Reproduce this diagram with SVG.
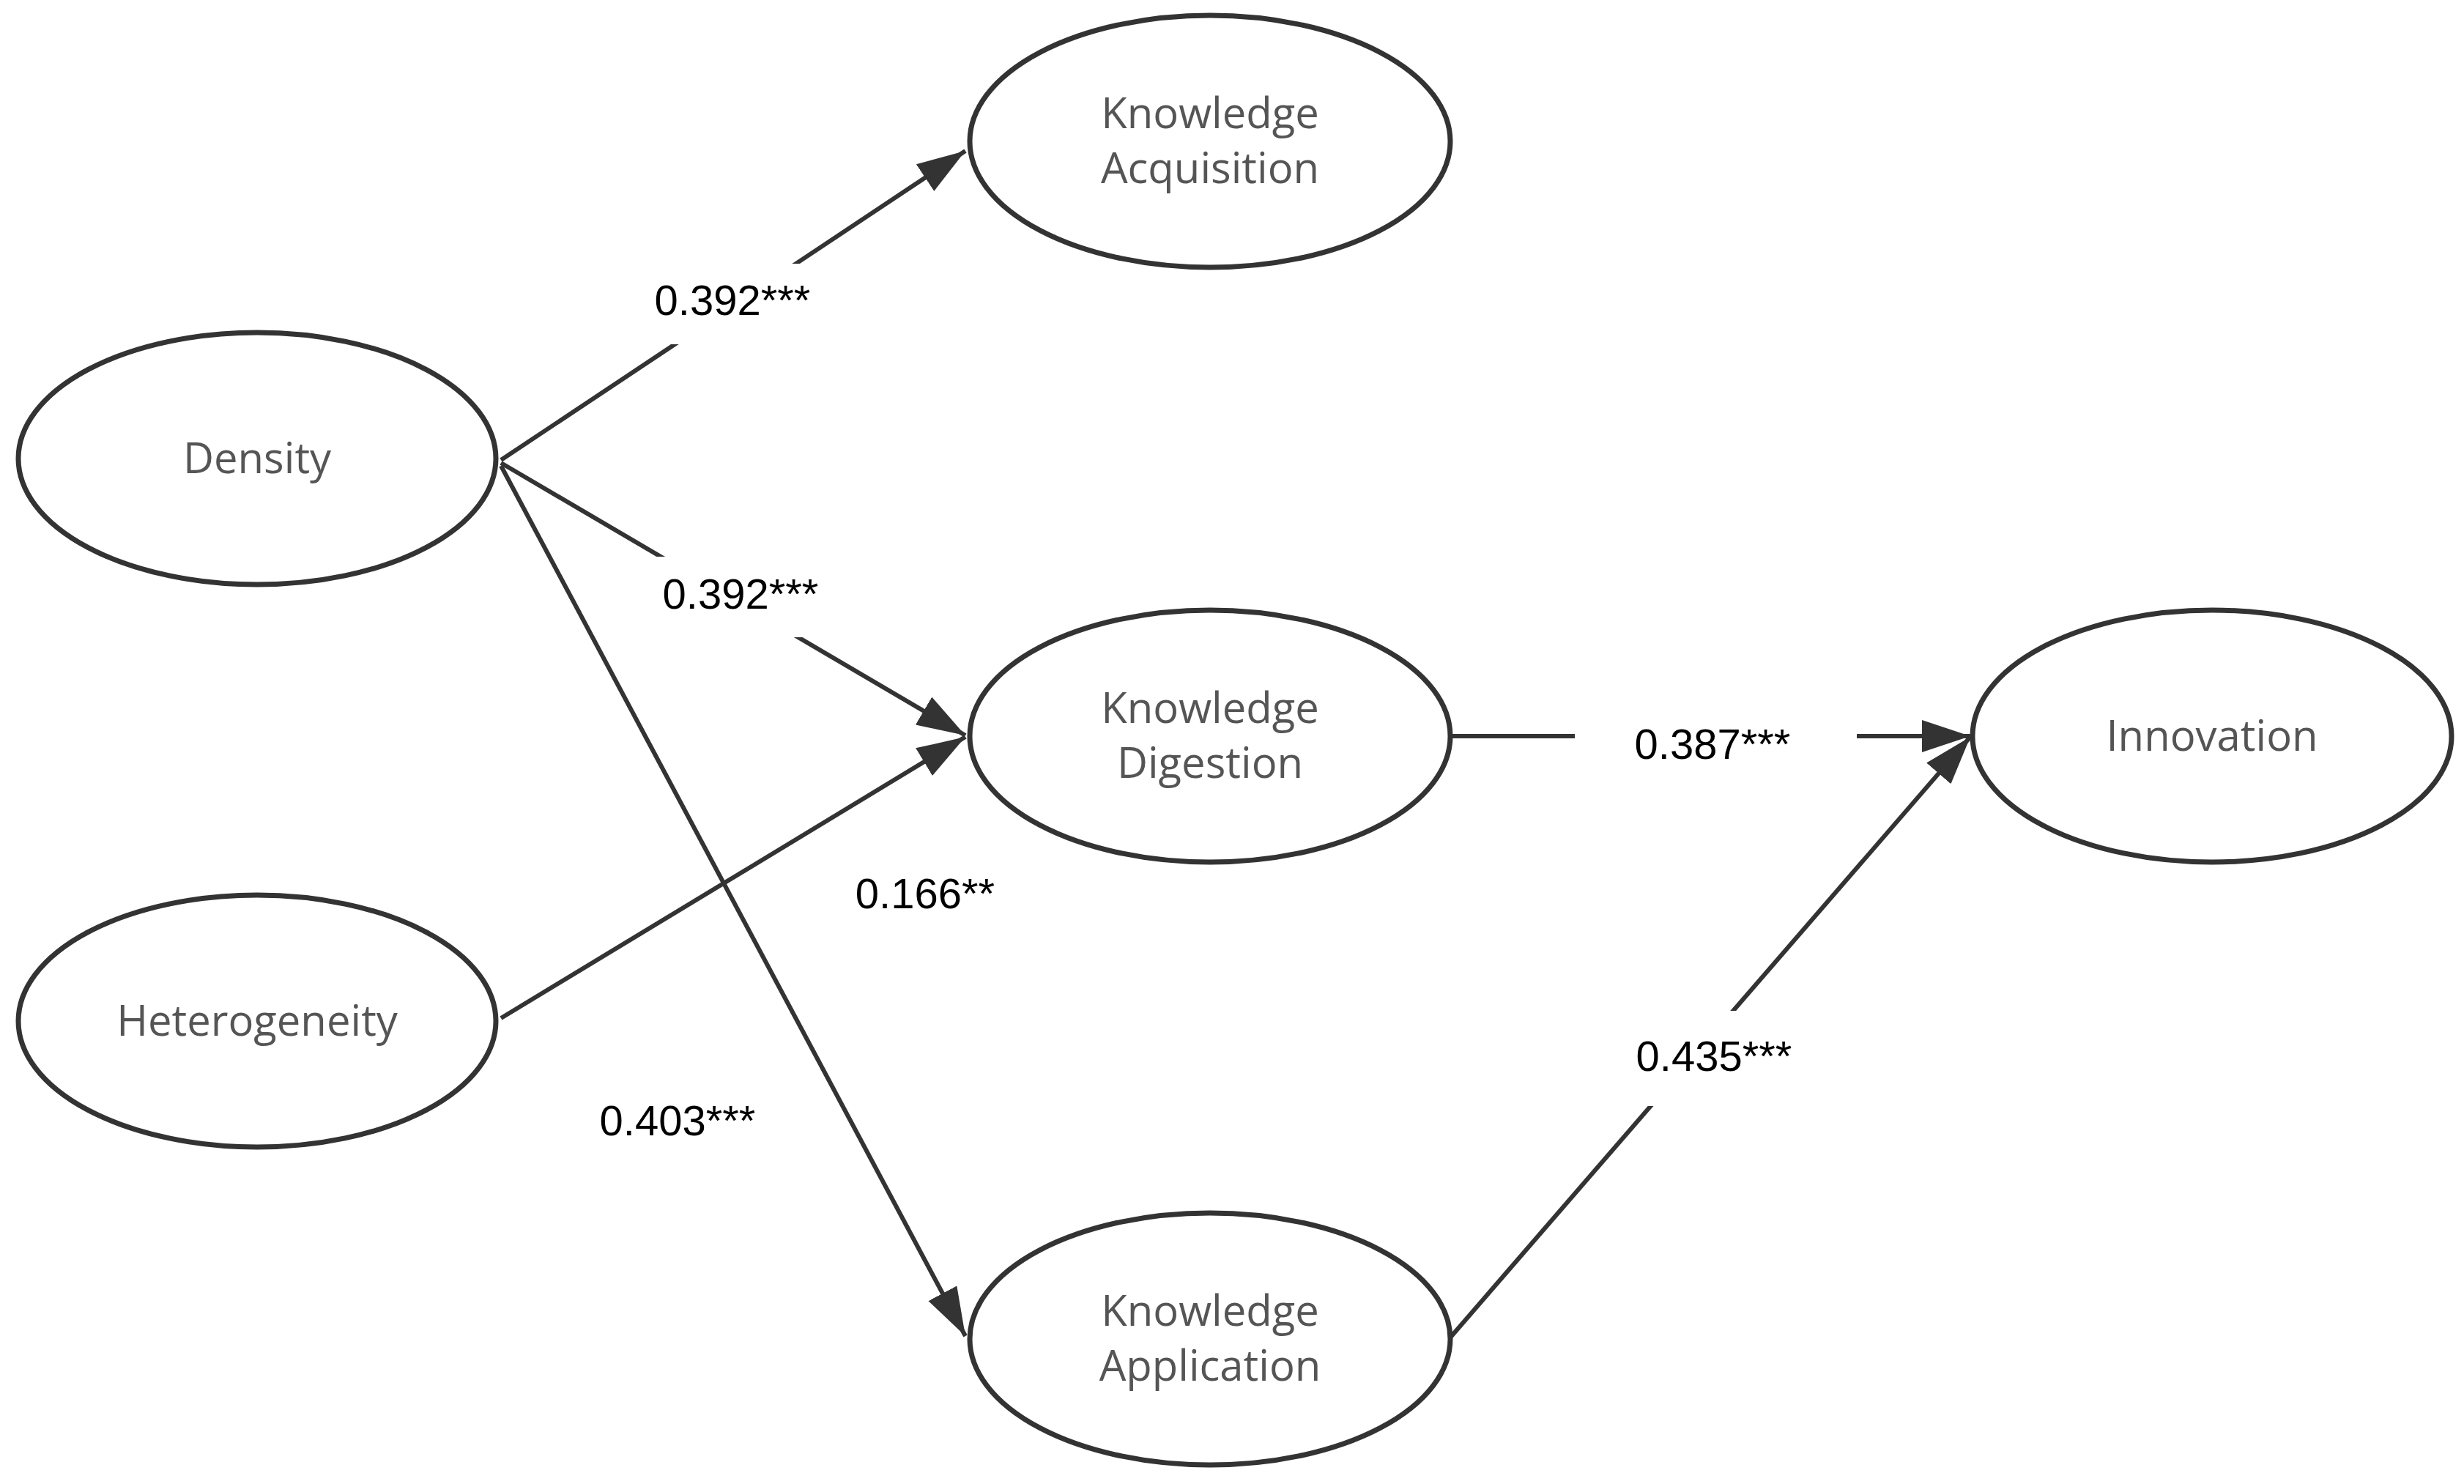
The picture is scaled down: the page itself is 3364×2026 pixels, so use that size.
<svg xmlns="http://www.w3.org/2000/svg" width="3364" height="2026" viewBox="0 0 3364 2026">
<defs>
<style>
.node{fill:#fff;stroke:#333;stroke-width:7}
.nt{font-family:"Open Sans","DejaVu Sans",sans-serif;font-size:58px;fill:#555;text-anchor:middle}
.e{stroke:#333;stroke-width:6;fill:none;marker-end:url(#ah)}
.lb{font-family:"Liberation Sans",Arial,sans-serif;font-size:58px;fill:#000;text-anchor:middle}
</style>
<marker id="ah" markerUnits="userSpaceOnUse" markerWidth="70" markerHeight="50" refX="66" refY="25" orient="auto">
<path d="M0,3 L66,25 L0,47 Z" fill="#333"/>
</marker>
</defs>
<rect width="3364" height="2026" fill="#fff"/>
<g id="connectors">
<line class="e" x1="684" y1="628" x2="1318" y2="206"/>
<line class="e" x1="684" y1="632" x2="1318" y2="1004"/>
<line class="e" x1="684" y1="636" x2="1318" y2="1824"/>
<line class="e" x1="684" y1="1390" x2="1318" y2="1006"/>
<line class="e" x1="1980" y1="1005" x2="2690" y2="1005"/>
<line class="e" x1="1980" y1="1826" x2="2690" y2="1006"/>
<rect x="880" y="360" width="240" height="110" fill="#fff"/>
<rect x="880" y="760" width="240" height="110" fill="#fff"/>
<rect x="2150" y="960" width="385" height="100" fill="#fff"/>
<rect x="2210" y="1380" width="260" height="130" fill="#fff"/>
<text class="lb" x="1000" y="430">0.392***</text>
<text class="lb" x="1011" y="831">0.392***</text>
<text class="lb" x="2338" y="1036">0.387***</text>
<text class="lb" x="1263" y="1240">0.166**</text>
<text class="lb" x="925" y="1550">0.403***</text>
<text class="lb" x="2340" y="1462">0.435***</text>
</g>
<g id="density"><ellipse class="node" cx="351" cy="626" rx="326" ry="172"/><text class="nt" x="351" y="646">Density</text></g>
<g id="heterogeneity"><ellipse class="node" cx="351" cy="1394" rx="326" ry="172"/><text class="nt" x="351" y="1414">Heterogeneity</text></g>
<g id="acquisition"><ellipse class="node" cx="1652" cy="193" rx="328" ry="172"/><text class="nt" x="1652" y="175">Knowledge</text><text class="nt" x="1652" y="250">Acquisition</text></g>
<g id="digestion"><ellipse class="node" cx="1652" cy="1005" rx="328" ry="172"/><text class="nt" x="1652" y="987">Knowledge</text><text class="nt" x="1652" y="1062">Digestion</text></g>
<g id="application"><ellipse class="node" cx="1652" cy="1828" rx="328" ry="172"/><text class="nt" x="1652" y="1810">Knowledge</text><text class="nt" x="1652" y="1885">Application</text></g>
<g id="innovation"><ellipse class="node" cx="3020" cy="1005" rx="327" ry="172"/><text class="nt" x="3020" y="1025">Innovation</text></g>
</svg>
